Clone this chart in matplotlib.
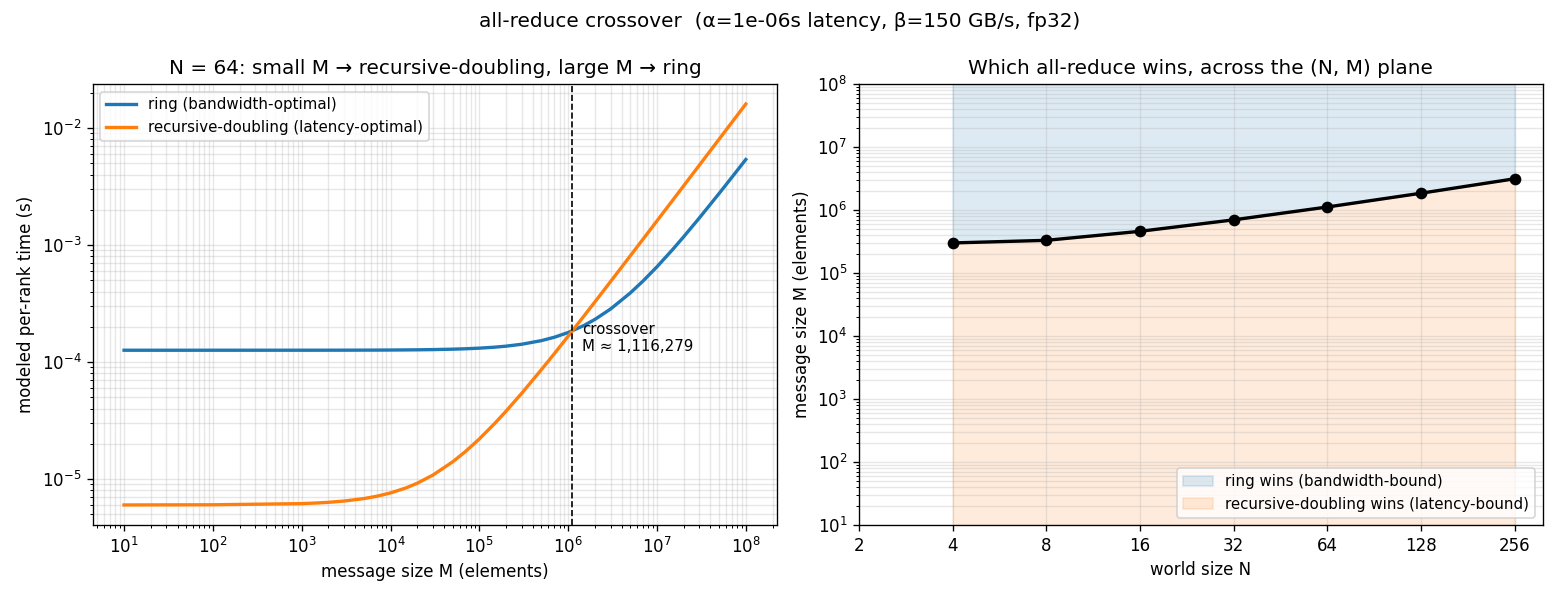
"""
all-reduce crossover: ring vs recursive-doubling (modeled per-rank time).
"""
import numpy as np
import matplotlib
matplotlib.use('Agg')
import matplotlib.pyplot as plt

# ---- left panel: N = 64, time vs message size ----
M_vals = [10, 1e2,
          1e3, 1.5e3, 2e3, 3e3, 5e3, 7e3,
          1e4, 1.5e4, 2e4, 3e4, 5e4, 7e4,
          1e5, 1.5e5, 2e5, 3e5, 5e5, 7e5,
          1e6, 1.5e6, 2e6, 3e6, 5e6, 7e6,
          1e7, 1.5e7, 2e7, 3e7, 5e7, 7e7, 1e8]
t_ring = [1.26e-4, 1.26e-4,
          1.2605e-4, 1.2608e-4, 1.2611e-4, 1.2616e-4, 1.2626e-4, 1.2637e-4,
          1.2653e-4, 1.2679e-4, 1.2705e-4, 1.2758e-4, 1.2863e-4, 1.2968e-4,
          1.3125e-4, 1.3388e-4, 1.365e-4, 1.4175e-4, 1.5225e-4, 1.6275e-4,
          1.785e-4, 2.0475e-4, 2.31e-4, 2.835e-4, 3.885e-4, 4.935e-4,
          6.51e-4, 9.135e-4, 1.176e-3, 1.701e-3, 2.751e-3, 3.801e-3, 5.376e-3]
t_rd = [6.0e-6, 6.02e-6,
        6.16e-6, 6.24e-6, 6.32e-6, 6.48e-6, 6.8e-6, 7.12e-6,
        7.6e-6, 8.4e-6, 9.2e-6, 1.08e-5, 1.4e-5, 1.72e-5,
        2.2e-5, 3.0e-5, 3.8e-5, 5.4e-5, 8.6e-5, 1.18e-4,
        1.66e-4, 2.46e-4, 3.26e-4, 4.86e-4, 8.06e-4, 1.126e-3,
        1.606e-3, 2.406e-3, 3.206e-3, 4.806e-3, 8.006e-3, 1.1206e-2, 1.6006e-2]
M_cross = 1116279
t_cross = 1.846e-4

# ---- right panel: crossover M per world size N ----
N_vals = [4, 8, 16, 32, 64, 128, 256]
M_star = [300000, 330000, 458824, 697959, 1116279, 1846729, 3133453]
N_ticks = [2, 4, 8, 16, 32, 64, 128, 256]
M_lo, M_hi = 1e1, 1e8

fig, (ax1, ax2) = plt.subplots(1, 2, figsize=(13, 5), dpi=120)
fig.subplots_adjust(left=0.0596, right=0.989, wspace=0.12, top=0.86, bottom=0.125)
fig.suptitle(u'all-reduce crossover  (\u03b1=1e-06s latency, \u03b2=150 GB/s, fp32)',
             y=0.98)

ax = ax1
ax.loglog(M_vals, t_ring, color='C0', lw=2, label='ring (bandwidth-optimal)')
ax.loglog(M_vals, t_rd, color='C1', lw=2, label='recursive-doubling (latency-optimal)')
ax.axvline(M_cross, color='k', ls='--', lw=1)
ax.text(M_cross * 1.28, t_cross * 0.87, f'crossover\nM \u2248 {M_cross:,}',
        ha='left', va='center', fontsize=9)
ax.set_xlabel('message size M (elements)')
ax.set_ylabel('modeled per-rank time (s)')
ax.set_title(u'N = 64: small M \u2192 recursive-doubling, large M \u2192 ring')
ax.grid(True, which='both', alpha=0.3)
ax.legend(loc='upper left', fontsize=9)

ax = ax2
ax.fill_between(N_vals, M_star, M_hi, color='C0', alpha=0.15,
                label='ring wins (bandwidth-bound)')
ax.fill_between(N_vals, M_lo, M_star, color='C1', alpha=0.15,
                label='recursive-doubling wins (latency-bound)')
ax.plot(N_vals, M_star, 'o-', color='k', lw=2)
ax.set_xscale('log', base=2)
ax.set_yscale('log')
ax.set_xticks(N_ticks)
ax.set_xticklabels([str(n) for n in N_ticks])
ax.set_ylim(M_lo, M_hi)
ax.set_xlabel('world size N')
ax.set_ylabel('message size M (elements)')
ax.set_title('Which all-reduce wins, across the (N, M) plane')
ax.grid(True, which='both', alpha=0.3)
ax.legend(loc='lower right', fontsize=9)

fig.savefig('out.png', dpi=120)
